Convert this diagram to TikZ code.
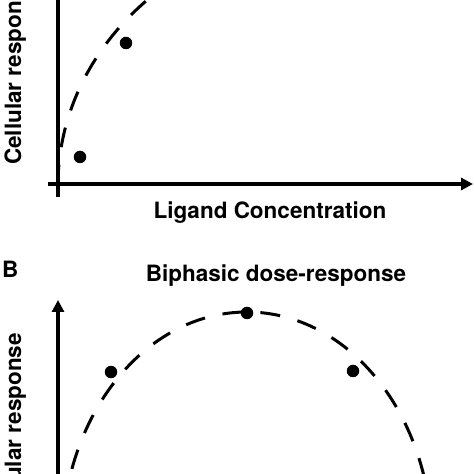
\documentclass[tikz,border=0pt]{standalone}
\usepackage{fontspec}
\setmainfont{TeX Gyre Heros}
\usetikzlibrary{arrows.meta}

\tikzset{
  axisarrow/.style={line width=3.2pt, -{Triangle[length=12pt,width=12pt]}},
  axisline/.style={line width=3.2pt},
  fitcurve/.style={line width=3pt, dash pattern=on 20pt off 18pt},
  datapt/.style={circle, fill=black, inner sep=0pt, minimum size=12.5pt},
  lbl/.style={font=\bfseries\fontsize{22.5}{27}\selectfont, inner sep=0pt},
}

\begin{document}
\begin{tikzpicture}[x=1pt, y=1pt]
\useasboundingbox (0,0) rectangle (474,474);
\clip (0,0) rectangle (474,474);
\fill[white] (0,0) rectangle (474,474);

% top panel
\begin{scope}
        \coordinate (xorig) at (48,290);
        \coordinate (xend) at (473,290);
        \coordinate (ybot) at (58,277);
        \coordinate (ytop) at (58,480);
        \draw[axisarrow] (xorig) -- (xend);
        \draw[axisline] (ybot) -- (ytop);
        \draw[fitcurve] (58,289) arc[start angle=180, end angle=125, x radius=300, y radius=260];
        \node[datapt] (p1) at (80,317) {};
        \node[datapt] (p2) at (126,431) {};
        \node[lbl, anchor=base] (xlab) at (270,255) {Ligand Concentration};
        \node[lbl, rotate=90, anchor=base west] (ylabA) at (21,309) {Cellular response};
\end{scope}

% bottom panel
\begin{scope}
        \node[lbl, anchor=base west] (panelB) at (2,196) {B};
        \node[lbl, anchor=base] (title) at (276,192) {Biphasic dose-response};
        \coordinate (ybase) at (58,-5);
        \coordinate (ytip) at (58,174);
        \draw[axisarrow] (ybase) -- (ytip);
        \draw[fitcurve] (62,-70) arc[start angle=180, end angle=0, x radius=185, y radius=232];
        \node[datapt] (q1) at (111,102) {};
        \node[datapt] (q2) at (247,161) {};
        \node[datapt] (q3) at (353,103) {};
        \node[lbl, rotate=90, anchor=base east] (ylabB) at (21,141) {Cellular response};
\end{scope}
\end{tikzpicture}
\end{document}
